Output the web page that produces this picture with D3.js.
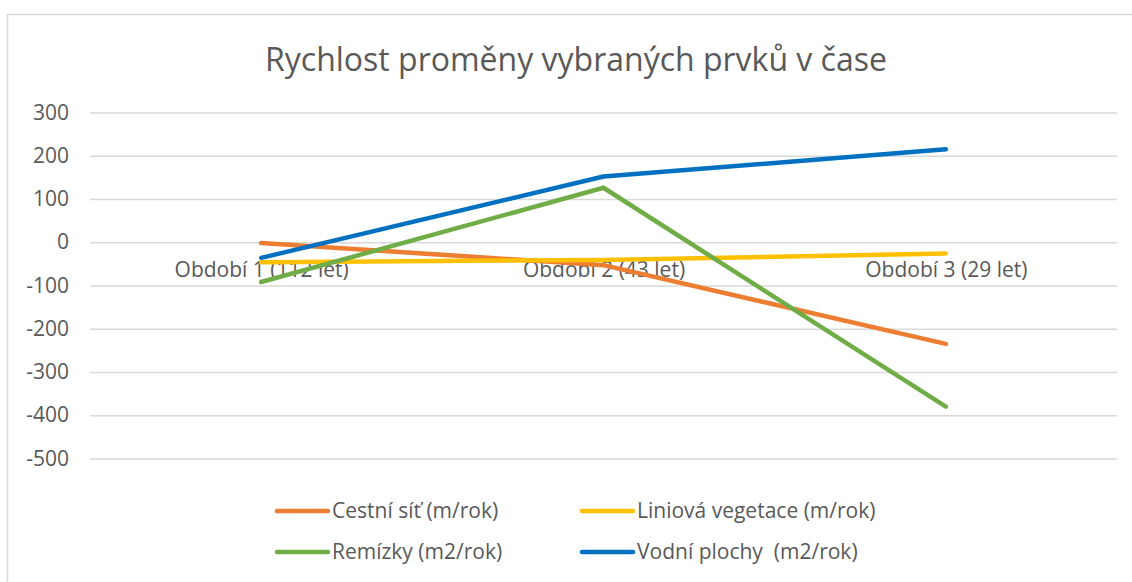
<!DOCTYPE html>
<html><head><meta charset="utf-8">
<script src="https://cdn.jsdelivr.net/npm/d3@7"></script>
<style>body{margin:0;background:#fff}svg{display:block}text{font-family:"Open Sans",sans-serif;fill:#595959}</style>
</head><body>
<script>
const categories = ["Období 1 (112 let)", "Období 2 (43 let)", "Období 3 (29 let)"];
const seriesNames = ["Cestní síť (m/rok)", "Liniová vegetace (m/rok)", "Remízky (m2/rok)", "Vodní plochy  (m2/rok)"];
const cestniSit = [-2, -53, -235];
const liniovaVegetace = [-46, -41, -26];
const remizky = [-92, 126, -380];
const vodniPlochy = [-36, 152, 215];
const yTicks = [300, 200, 100, 0, -100, -200, -300, -400, -500];
const colors = ["#ED7D31", "#FFC000", "#70AD47", "#0070C0"];
const title = "Rychlost proměny vybraných prvků v čase";

const W = 1132, H = 582;
const svg = d3.select("body").append("svg").attr("width", W).attr("height", H);
svg.append("rect").attr("x", 7.5).attr("y", 14.5).attr("width", W + 10).attr("height", H + 10)
  .attr("fill", "#fff").attr("stroke", "#D9D9D9").attr("stroke-width", 1.5);

const x = d3.scalePoint().domain(categories).range([90, 1117]).padding(0.5);
const y = d3.scaleLinear().domain([-500, 300]).range([458.5, 112.5]);

svg.append("text").attr("x", 576).attr("y", 71).attr("text-anchor", "middle")
  .style("font-size", "32px").text(title);

const yAxis = svg.append("g").attr("transform", "translate(90,0)")
  .call(d3.axisLeft(y).tickValues(yTicks).tickSize(-1027).tickPadding(21).tickFormat(d => String(d)));
yAxis.select(".domain").remove();
yAxis.selectAll("line").attr("stroke", "#D9D9D9").attr("stroke-width", 1.5);
yAxis.selectAll("text").style("font-size", "21px").attr("fill", "#595959");

const xAxis = svg.append("g").attr("transform", `translate(0,${y(0)})`)
  .call(d3.axisBottom(x).tickSize(0).tickPadding(20));
xAxis.select(".domain").remove();
xAxis.selectAll("text").style("font-size", "21px").attr("fill", "#595959");

const allSeries = [cestniSit, liniovaVegetace, remizky, vodniPlochy];
const line = d3.line().x((d, i) => x(categories[i])).y(d => y(d));
allSeries.forEach((vals, s) => {
  svg.append("path").datum(vals).attr("d", line).attr("fill", "none")
    .attr("stroke", colors[s]).attr("stroke-width", 4.5)
    .attr("stroke-linecap", "round").attr("stroke-linejoin", "round");
});

const legendPos = [[277, 511], [582, 511], [277, 552], [582, 552]];
seriesNames.forEach((n, s) => {
  const [lx, ly] = legendPos[s];
  const g = svg.append("g").attr("transform", `translate(${lx},${ly})`);
  g.append("line").attr("x1", 0).attr("x2", 51).attr("y1", 0).attr("y2", 0)
    .attr("stroke", colors[s]).attr("stroke-width", 4.5).attr("stroke-linecap", "round");
  g.append("text").attr("x", 55).attr("y", 0).attr("dy", "0.35em").style("font-size", "21px")
    .style("white-space", "pre").text(n);
});
</script>
</body></html>
